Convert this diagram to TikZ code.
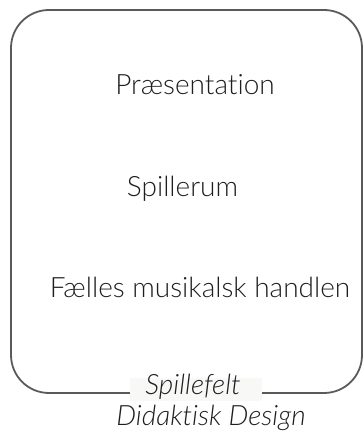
\documentclass[tikz,border=0pt]{standalone}
\usepackage{fontspec}
\setmainfont{Lato Light}[Ligatures=NoCommon]
\definecolor{frame}{HTML}{5A5B58}
\definecolor{ink}{HTML}{1E1E1E}
\definecolor{labelbg}{HTML}{F8F8F6}
\begin{document}
\begin{tikzpicture}[x=1pt,y=1pt,
  txt/.style={anchor=base, text=ink, inner sep=0pt, font=\fontsize{28}{31}\selectfont},
  itxt/.style={txt, font=\fontsize{28}{31}\selectfont\itshape}]
\useasboundingbox (0,0) rectangle (363,433);
% field boundary
\draw[frame, line width=1.8pt, rounded corners=38pt] (11,40) rectangle (362,423);
% label patch breaking the bottom edge
\node[fill=labelbg, minimum width=132pt, minimum height=23pt, inner sep=0pt] (patch) at (196,43.5) {};
\node[txt] (pres) at (195,338) {Præsentation};
\node[txt] (spil) at (182.5,236) {Spillerum};
\node[txt] (faelles) at (200,135) {Fælles musikalsk handlen};
\node[itxt] (felt) at (193,38) {Spillefelt};
\node[itxt] (design) at (211,7) {Didaktisk Design};
\end{tikzpicture}
\end{document}
